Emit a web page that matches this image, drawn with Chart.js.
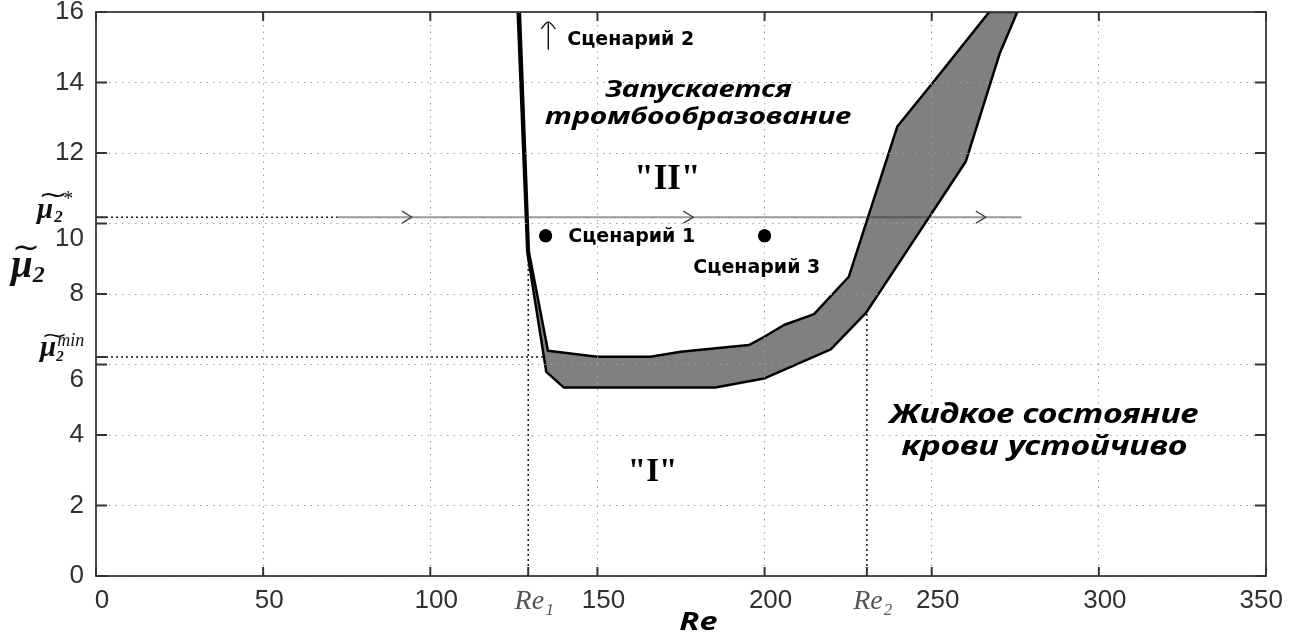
<!DOCTYPE html>
<html lang="ru">
<head>
<meta charset="utf-8">
<title>Re – μ₂: области состояния крови</title>
<script src="https://cdn.jsdelivr.net/npm/chart.js@4.4.1/dist/chart.umd.min.js"></script>
<style>
  html, body { margin: 0; padding: 0; background: #fff; }
  #wrap { position: relative; width: 1293px; height: 637px; }
</style>
</head>
<body>
<div id="wrap"><canvas id="c"></canvas></div>
<script>
// Critical Reynolds numbers and viscosity thresholds
const re1 = 129.3;
const re2 = 230.6;
const muStar = 10.18;
const muMin = 6.21;

// Upper edge of the transition band
const upperRe = [126.8, 129.5, 135.2, 149.9, 165.9, 174.9, 195.3, 199.8, 205.8, 214.8, 225.2, 239.7, 250.2, 267.2];
const upperMu = [16, 9.2, 6.39, 6.22, 6.22, 6.36, 6.55, 6.78, 7.12, 7.43, 8.49, 12.75, 13.98, 16];

// Lower edge of the transition band
const lowerRe = [126.15, 129.0, 134.7, 139.9, 185.3, 199.8, 219.8, 230.4, 260.2, 270.4, 275.6];
const lowerMu = [16, 9.2, 5.79, 5.35, 5.35, 5.60, 6.43, 7.47, 11.76, 14.84, 16];

// Scenario 1 and scenario 3 states
const scenarioRe = [134.5, 200];
const scenarioMu = [9.65, 9.65];

// Flow line along mu* and its direction marks
const flowRe = [72.3, 276.9];
const flowArrowRe = [94.5, 178.7, 266.2];

// Scenario 2 runs off the top
const scenario2Re = 135.3;
const scenario2Mu = [14.93, 15.72];

// Axis ticks
const xTickValues = [0, 50, 100, re1, 150, 200, re2, 250, 300, 350];
const xTickLabels = ['0', '50', '100', 'Re₁', '150', '200', 'Re₂', '250', '300', '\u00a0350\u00a0\u00a0\u00a0\u00a0'];
const yTickValues = [0, 2, 4, 6, 8, 10, 12, 14, 16];
const yTickLabels = ['0', '2', '4', '6', '8', '10', '12', '14', '16'];

const pts = (xs, ys) => xs.map((x, i) => ({ x, y: ys[i] }));
const band = pts(upperRe, upperMu).concat(pts(lowerRe, lowerMu).reverse());
const isRe = v => v === re1 || v === re2;

// Text placed in the plot, in data units
const notes = [
  { text: 'Сценарий 2', re: 141.0, mu: 15.21, font: 'bold 19px "DejaVu Sans"', align: 'left' },
  { text: 'Сценарий 1', re: 141.3, mu: 9.62, font: 'bold 19px "DejaVu Sans"', align: 'left' },
  { text: 'Сценарий 3', re: 178.7, mu: 8.74, font: 'bold 19px "DejaVu Sans"', align: 'left' },
  { text: 'Запускается', re: 180.2, mu: 13.79, font: 'italic bold 24px "Noto Sans"', align: 'center', sx: 1.25 },
  { text: 'тромбообразование', re: 180.1, mu: 13.03, font: 'italic bold 24px "Noto Sans"', align: 'center', sx: 1.25 },
  { text: '"II"', re: 170.9, mu: 11.24, font: 'bold 35px "Liberation Serif"', align: 'center' },
  { text: '"I"', re: 166.5, mu: 2.94, font: 'bold 33px "Liberation Serif"', align: 'center' },
  { text: 'Жидкое состояние', re: 283.5, mu: 4.56, font: 'italic bold 27px "Noto Sans"', align: 'center', sx: 1.25 },
  { text: 'крови устойчиво', re: 283.7, mu: 3.66, font: 'italic bold 27px "Noto Sans"', align: 'center', sx: 1.25 }
];

function tilde(ctx, cx, cy, width, size) {
  ctx.save();
  ctx.font = `${size}px "DejaVu Sans"`;
  const w = ctx.measureText('~').width;
  ctx.translate(cx, cy);
  ctx.scale(width / w, 1);
  ctx.textAlign = 'center';
  ctx.textBaseline = 'middle';
  ctx.fillText('~', 0, 0);
  ctx.restore();
}

// mu with tilde, subscript and optional superscript
function drawMu(ctx, x, base, o) {
  ctx.save();
  ctx.fillStyle = '#111';
  ctx.textAlign = 'left';
  ctx.textBaseline = 'alphabetic';
  ctx.font = `italic bold ${o.size}px "Liberation Serif"`;
  const w = ctx.measureText('μ').width;
  ctx.fillText('μ', x, base);
  tilde(ctx, x + o.tildeDx + o.tildeW / 2, base - o.tildeUp, o.tildeW, o.tildeSize);
  ctx.font = `italic bold ${o.subSize}px "Liberation Serif"`;
  ctx.fillText(o.sub, x + w + o.subDx, base + o.subDown);
  if (o.sup) {
    ctx.font = `italic ${o.supSize}px "Liberation Serif"`;
    ctx.fillText(o.sup, x + w + o.supDx, base - o.supUp);
  }
  ctx.restore();
}

const decor = {
  id: 'decor',
  afterDraw(chart) {
    const { ctx, chartArea: a, scales: { x, y } } = chart;
    const px = v => x.getPixelForValue(v);
    const py = v => y.getPixelForValue(v);
    ctx.save();

    // scenario dots sit above the grid
    chart.getDatasetMeta(0).data.forEach(p => p.draw(ctx, a));

    // frame
    ctx.strokeStyle = '#3a3a3a';
    ctx.lineWidth = 1.8;
    ctx.strokeRect(a.left, a.top, a.right - a.left, a.bottom - a.top);

    // inward tick marks
    ctx.lineWidth = 2;
    ctx.strokeStyle = '#333';
    ctx.beginPath();
    xTickValues.forEach(v => {
      const p = px(v);
      ctx.moveTo(p, a.bottom); ctx.lineTo(p, a.bottom - 9);
      if (!isRe(v)) { ctx.moveTo(p, a.top); ctx.lineTo(p, a.top + 9); }
    });
    yTickValues.concat([muStar, muMin]).forEach(v => {
      const p = py(v);
      ctx.moveTo(a.left, p); ctx.lineTo(a.left + 11, p);
      if (v !== muStar && v !== muMin) { ctx.moveTo(a.right, p); ctx.lineTo(a.right - 11, p); }
    });
    ctx.stroke();

    // direction marks on the flow line
    ctx.strokeStyle = '#444';
    ctx.lineWidth = 1.3;
    ctx.beginPath();
    flowArrowRe.forEach(r => {
      const tx = px(r), ty = py(muStar);
      ctx.moveTo(tx - 10, ty - 6); ctx.lineTo(tx, ty); ctx.lineTo(tx - 10, ty + 6);
    });
    ctx.stroke();

    // scenario 2 arrow
    const ax = px(scenario2Re), ay0 = py(scenario2Mu[0]), ay1 = py(scenario2Mu[1]);
    ctx.strokeStyle = '#111';
    ctx.lineWidth = 1.4;
    ctx.beginPath();
    ctx.moveTo(ax, ay0); ctx.lineTo(ax, ay1);
    ctx.moveTo(ax - 7, ay1 + 7); ctx.quadraticCurveTo(ax - 2, ay1, ax, ay1);
    ctx.quadraticCurveTo(ax + 2, ay1, ax + 7, ay1 + 7);
    ctx.stroke();

    // annotations
    ctx.fillStyle = '#000';
    ctx.textBaseline = 'middle';
    notes.forEach(n => {
      ctx.save();
      ctx.font = n.font;
      ctx.textAlign = n.align;
      ctx.translate(px(n.re), py(n.mu));
      ctx.scale(n.sx || 1, 1);
      ctx.fillText(n.text, 0, 0);
      ctx.restore();
    });

    // axis titles
    ctx.save();
    ctx.font = 'italic bold 25px "Noto Sans"';
    ctx.textAlign = 'center';
    ctx.textBaseline = 'middle';
    ctx.translate(px(180.2), a.bottom + 47);
    ctx.scale(1.3, 1);
    ctx.fillText('Re', 0, 0);
    ctx.restore();

    drawMu(ctx, a.left - 85, py(8.6) + 4, {
      size: 39, tildeDx: 1, tildeW: 28, tildeUp: 28, tildeSize: 30,
      sub: '2', subSize: 24, subDx: 0, subDown: 5
    });
    drawMu(ctx, a.left - 59, py(muStar) + 1, {
      size: 29, tildeDx: 1, tildeW: 30, tildeUp: 21, tildeSize: 24,
      sub: '2', subSize: 17, subDx: 1, subDown: 4,
      sup: '*', supSize: 20, supDx: 9, supUp: 13
    });
    drawMu(ctx, a.left - 56, py(muMin) - 1, {
      size: 29, tildeDx: 1, tildeW: 27, tildeUp: 19, tildeSize: 20,
      sub: '2', subSize: 15, subDx: 0, subDown: 5,
      sup: 'min', supSize: 18, supDx: 1, supUp: 10
    });

    ctx.restore();
  }
};

const dotted = { borderColor: '#1a1a1a', borderWidth: 1.5, borderDash: [2, 3], pointRadius: 0, showLine: true, fill: false };

new Chart(document.getElementById('c'), {
  type: 'line',
  data: {
    datasets: [
      { label: 'Сценарии 1, 3', data: pts(scenarioRe, scenarioMu), showLine: false,
        pointRadius: 6.5, pointBackgroundColor: '#000', pointBorderWidth: 0 },
      { label: 'Поток', data: pts(flowRe, [muStar, muStar]), borderColor: 'rgba(53,53,53,0.5)',
        borderWidth: 2, pointRadius: 0, fill: false },
      { label: 'Переходная зона', data: band, fill: 'shape', backgroundColor: 'rgb(128,128,128)',
        borderColor: '#000', borderWidth: 2.5, borderJoinStyle: 'round', pointRadius: 0, tension: 0 },
      Object.assign({ label: 'Re1', data: pts([re1, re1], [0, muStar]) }, dotted),
      Object.assign({ label: 'Re2', data: pts([re2, re2], [0, muStar]) }, dotted),
      Object.assign({ label: 'mu*', data: pts([0, flowRe[0]], [muStar, muStar]) }, dotted),
      Object.assign({ label: 'mu min', data: pts([0, 134.5], [muMin, muMin]) }, dotted)
    ]
  },
  options: {
    responsive: true,
    maintainAspectRatio: false,
    animation: false,
    events: [],
    layout: { padding: { top: 12, right: 27, left: 0, bottom: 0 } },
    plugins: { legend: { display: false }, tooltip: { enabled: false } },
    scales: {
      x: {
        type: 'linear', min: 0, max: 350,
        afterBuildTicks: s => { s.ticks = xTickValues.map(value => ({ value })); },
        afterFit: s => { s.height = 61; s.paddingLeft = 0; s.paddingRight = 0; },
        ticks: {
          autoSkip: false, maxRotation: 0, padding: 9, labelOffset: 6,
          callback: (v, i) => xTickLabels[i],
          color: c => (c.tick && isRe(c.tick.value)) ? '#555' : '#303030',
          font: c => (c.tick && isRe(c.tick.value))
            ? { family: 'Liberation Serif', style: 'italic', size: 28 }
            : { family: 'Liberation Sans', size: 26 }
        },
        grid: {
          z: 1, drawTicks: false, lineWidth: 1,
          color: c => (c.tick && isRe(c.tick.value)) ? 'rgba(0,0,0,0)' : '#a0a0a0'
        },
        border: { display: false, dash: [1.5, 5] }
      },
      y: {
        type: 'linear', min: 0, max: 16,
        afterBuildTicks: s => { s.ticks = yTickValues.map(value => ({ value })); },
        afterFit: s => { s.width = 96; s.paddingTop = 0; s.paddingBottom = 0; },
        ticks: {
          padding: 12, color: '#303030',
          font: { family: 'Liberation Sans', size: 26 },
          callback: (v, i) => (v === 10 || v === 6) ? ['', yTickLabels[i]] : yTickLabels[i]
        },
        grid: { z: 1, drawTicks: false, lineWidth: 1, color: '#a0a0a0' },
        border: { display: false, dash: [1.5, 5] }
      }
    }
  },
  plugins: [decor]
});
</script>
</body>
</html>
